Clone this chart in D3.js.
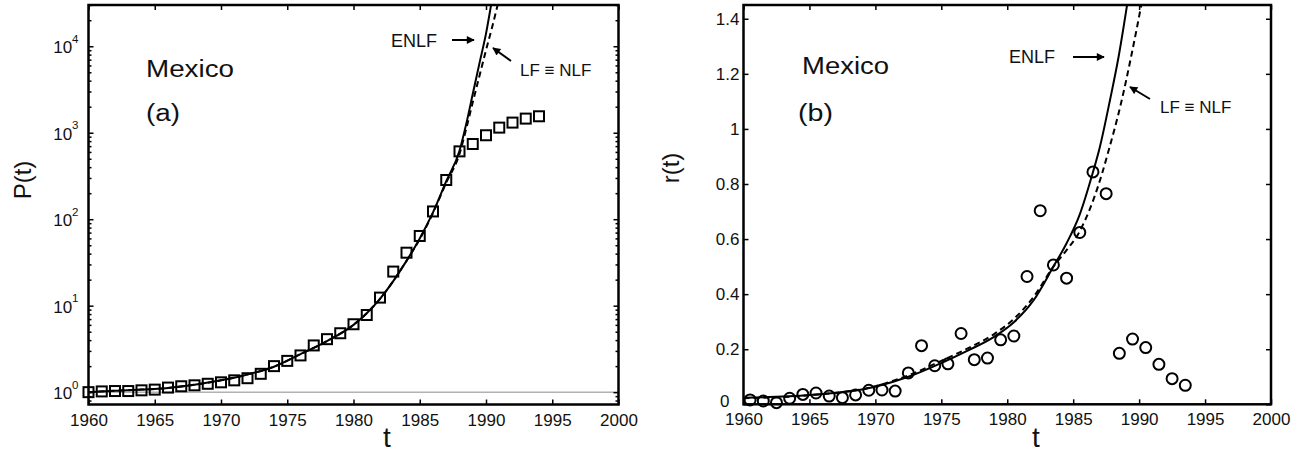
<!DOCTYPE html>
<html><head><meta charset="utf-8">
<script src="https://cdn.jsdelivr.net/npm/d3@7/dist/d3.min.js"></script>
<style>
body{margin:0;background:#fff;}
svg{display:block;font-family:"Liberation Sans",Arial,sans-serif;}
</style></head>
<body>
<svg id="chart" width="1316" height="454"></svg>
<script>
// ---------- data ----------
const pYears = d3.range(1960, 1995);
const pValues = [1.0,1.02,1.03,1.03,1.05,1.07,1.13,1.17,1.2,1.25,1.3,1.37,1.45,1.63,2.0,2.3,2.66,3.47,4.1,4.8,6.1,7.8,12.4,24.8,41,64,123,284,609,741,935,1146,1310,1457,1550];

const enlfPYears = [1960,1962,1964,1966,1968,1970,1972,1974,1976,1978,1980,1982,1984,1985,1986,1987,1988,1988.5,1989,1989.5,1990,1990.4];
const enlfP      = [1.0,1.04,1.07,1.12,1.22,1.37,1.6,1.97,2.75,3.9,6.0,12,33,60,120,275,620,1250,2800,6300,14000,31000];
const lfPYears   = [1960,1962,1964,1966,1968,1970,1972,1974,1976,1978,1980,1982,1984,1985,1986,1987,1988,1988.5,1989,1989.5,1990,1990.5,1990.9];
const lfP        = [1.0,1.04,1.07,1.12,1.22,1.37,1.6,1.97,2.75,3.9,6.0,12,33,59,118,265,570,1100,2250,4500,9000,17500,31000];

const rYears = d3.range(1960.5, 1994, 1);
const rValues = [0.016,0.012,0.006,0.022,0.036,0.041,0.030,0.024,0.034,0.051,0.052,0.048,0.114,0.213,0.140,0.147,0.257,0.162,0.168,0.234,0.248,0.464,0.703,0.506,0.458,0.624,0.844,0.765,0.185,0.237,0.206,0.145,0.093,0.069];

const enlfRYears = [1960,1965,1970,1972.5,1975,1977,1979,1980.5,1982,1983.5,1984.5,1985.5,1986.48,1987,1987.8,1988.45,1989.09];
const enlfR      = [0.024,0.034,0.064,0.10,0.15,0.195,0.245,0.298,0.378,0.5,0.585,0.69,0.84,0.93,1.107,1.264,1.451];
const lfRYears   = [1960,1965,1970,1972.5,1975,1977,1979,1980.5,1982,1983.5,1984.5,1985.34,1985.87,1986.55,1987.19,1987.65,1988.66,1989.4,1990.17];
const lfR        = [0.022,0.033,0.066,0.105,0.158,0.203,0.255,0.31,0.39,0.5,0.56,0.615,0.665,0.745,0.838,0.915,1.1,1.264,1.451];

const xTicks = [1960,1965,1970,1975,1980,1985,1990,1995,2000];
const pTicks = [1,10,100,1000,10000];
const pTickExp = ["0","1","2","3","4"];
const rTicks = [0,0.2,0.4,0.6,0.8,1,1.2,1.4];
const rTickLabels = ["0","0.2","0.4","0.6","0.8","1","1.2","1.4"];

// ---------- setup ----------
const svg = d3.select("#chart");
const defs = svg.append("defs");
defs.append("marker").attr("id","ah").attr("viewBox","0 0 10 10")
  .attr("refX",9).attr("refY",5).attr("markerWidth",10).attr("markerHeight",8)
  .attr("markerUnits","userSpaceOnUse").attr("orient","auto")
  .append("path").attr("d","M0,0 L10,5 L0,10 Z").attr("fill","#000");

const FS = 17;

function frame(g, x, y){
  const [x0,x1] = x.range(), [y0,y1] = y.range();
  g.append("rect").attr("x",x0).attr("y",y1).attr("width",x1-x0).attr("height",y0-y1)
    .attr("fill","none").attr("stroke","#000").attr("stroke-width",2.5);
}

function styleAxis(sel){
  sel.select(".domain").remove();
  sel.selectAll(".tick line").attr("stroke","#000").attr("stroke-width",1.5);
  sel.selectAll(".tick text").attr("fill","#111").attr("font-size",FS).attr("font-family","Liberation Sans, Arial, sans-serif");
}

// ---------- panel (a) ----------
const xA = d3.scaleLinear().domain([1960,2000]).range([88.5,618.5]);
const yA = d3.scaleLog().domain([0.72,30000]).range([404.5,5]);
const gA = svg.append("g");
defs.append("clipPath").attr("id","clipA").append("rect")
  .attr("x",88.5).attr("y",5).attr("width",530).attr("height",399.5);

gA.append("line").attr("x1",xA(1960)).attr("x2",xA(2000)).attr("y1",yA(1)).attr("y2",yA(1))
  .attr("stroke","#8a8a8a").attr("stroke-width",1);

const minorA = [];
for (let e=-1;e<=4;e++) for (let k=2;k<=9;k++){ const v=k*Math.pow(10,e); if(v>=0.72&&v<=30000) minorA.push(v); }

gA.append("g").attr("transform",`translate(0,${yA.range()[0]})`)
  .call(d3.axisBottom(xA).tickValues(xTicks).tickFormat(d3.format("d")).tickSize(-5).tickPadding(9)).call(styleAxis);
gA.append("g").attr("transform",`translate(0,${yA.range()[1]})`)
  .call(d3.axisTop(xA).tickValues(xTicks).tickFormat("").tickSize(-5)).call(styleAxis);
const yAxA = gA.append("g").attr("transform",`translate(${xA.range()[0]},0)`)
  .call(d3.axisLeft(yA).tickValues(pTicks).tickFormat("").tickSize(-5)).call(styleAxis);
yAxA.selectAll(".tick").append("text")
  .attr("x",-10).attr("dy","0.38em").attr("text-anchor","end").attr("fill","#111").attr("font-size",FS)
  .each(function(d,i){
    const t = d3.select(this);
    t.append("tspan").text("10");
    t.append("tspan").attr("dy",-10.5).attr("font-size",11.5).text(pTickExp[i]);
  });
gA.append("g").attr("transform",`translate(${xA.range()[0]},0)`)
  .call(d3.axisLeft(yA).tickValues(minorA).tickFormat("").tickSize(-3)).call(styleAxis);
gA.append("g").attr("transform",`translate(${xA.range()[1]},0)`)
  .call(d3.axisRight(yA).tickValues(pTicks).tickFormat("").tickSize(-5)).call(styleAxis);
gA.append("g").attr("transform",`translate(${xA.range()[1]},0)`)
  .call(d3.axisRight(yA).tickValues(minorA).tickFormat("").tickSize(-3)).call(styleAxis);

const lineA = (xs, ys) => d3.line().x((d,i)=>xA(xs[i])).y((d,i)=>yA(ys[i])).curve(d3.curveMonotoneX)(xs);
gA.append("path").attr("d",lineA(enlfPYears,enlfP)).attr("fill","none").attr("stroke","#000")
  .attr("stroke-width",2).attr("clip-path","url(#clipA)");
gA.append("path").attr("d",lineA(lfPYears,lfP)).attr("fill","none").attr("stroke","#000")
  .attr("stroke-width",2).attr("stroke-dasharray","6,4").attr("clip-path","url(#clipA)");

gA.selectAll("rect.sq").data(pYears).enter().append("rect").attr("class","sq")
  .attr("x",d=>xA(d)-5).attr("y",(d,i)=>yA(pValues[i])-5).attr("width",10).attr("height",10)
  .attr("fill","none").attr("stroke","#000").attr("stroke-width",2);

frame(gA, xA, yA);

gA.append("text").attr("x",146).attr("y",77).attr("font-size",23).attr("textLength",88)
  .attr("lengthAdjust","spacingAndGlyphs").attr("fill","#111").text("Mexico");
gA.append("text").attr("x",146).attr("y",121).attr("font-size",23).attr("textLength",34)
  .attr("lengthAdjust","spacingAndGlyphs").attr("fill","#111").text("(a)");
gA.append("text").attr("x",391).attr("y",47).attr("font-size",18).attr("fill","#111").text("ENLF");
gA.append("line").attr("x1",452).attr("y1",40).attr("x2",474).attr("y2",40)
  .attr("stroke","#000").attr("stroke-width",2).attr("marker-end","url(#ah)");
gA.append("text").attr("x",520).attr("y",76).attr("font-size",17).attr("fill","#111").text("LF \u2261 NLF");
gA.append("line").attr("x1",511).attr("y1",61).attr("x2",493).attr("y2",48)
  .attr("stroke","#000").attr("stroke-width",2).attr("marker-end","url(#ah)");

gA.append("text").attr("transform","translate(31,180) rotate(-90)").attr("text-anchor","middle")
  .attr("font-size",24).attr("fill","#111").text("P(t)");
gA.append("text").attr("x",387).attr("y",447).attr("text-anchor","middle")
  .attr("font-size",28).attr("fill","#111").text("t");

// ---------- panel (b) ----------
const xB = d3.scaleLinear().domain([1960,2000]).range([743.5,1271]);
const yB = d3.scaleLinear().domain([0,1.45]).range([404.3,5]);
const gB = svg.append("g");
defs.append("clipPath").attr("id","clipB").append("rect")
  .attr("x",743.5).attr("y",5).attr("width",527.5).attr("height",399.3);

gB.append("g").attr("transform",`translate(0,${yB.range()[0]})`)
  .call(d3.axisBottom(xB).tickValues(xTicks).tickFormat(d3.format("d")).tickSize(-5).tickPadding(8.8)).call(styleAxis);
gB.append("g").attr("transform",`translate(0,${yB.range()[1]})`)
  .call(d3.axisTop(xB).tickValues(xTicks).tickFormat("").tickSize(-5)).call(styleAxis);
const yAxB = gB.append("g").attr("transform",`translate(${xB.range()[0]},0)`)
  .call(d3.axisLeft(yB).tickValues(rTicks).tickFormat((d,i)=>rTickLabels[i]).tickSize(-5).tickPadding(4)).call(styleAxis);
// zero label sits slightly left and up, as in the original, clear of the 1960 label
yAxB.selectAll(".tick text").filter(d=>d===0).attr("x",-14).attr("dy","0.1em");
gB.append("g").attr("transform",`translate(${xB.range()[1]},0)`)
  .call(d3.axisRight(yB).tickValues(rTicks).tickFormat("").tickSize(-5)).call(styleAxis);

const lineB = (xs, ys) => d3.line().x((d,i)=>xB(xs[i])).y((d,i)=>yB(ys[i])).curve(d3.curveMonotoneX)(xs);
gB.append("path").attr("d",lineB(enlfRYears,enlfR)).attr("fill","none").attr("stroke","#000")
  .attr("stroke-width",2).attr("clip-path","url(#clipB)");
gB.append("path").attr("d",lineB(lfRYears,lfR)).attr("fill","none").attr("stroke","#000")
  .attr("stroke-width",2).attr("stroke-dasharray","6,4").attr("clip-path","url(#clipB)");

gB.selectAll("circle.pt").data(rYears).enter().append("circle").attr("class","pt")
  .attr("cx",d=>xB(d)).attr("cy",(d,i)=>yB(rValues[i])).attr("r",5.5)
  .attr("fill","none").attr("stroke","#000").attr("stroke-width",2);

frame(gB, xB, yB);

gB.append("text").attr("x",802).attr("y",74).attr("font-size",23).attr("textLength",87)
  .attr("lengthAdjust","spacingAndGlyphs").attr("fill","#111").text("Mexico");
gB.append("text").attr("x",798).attr("y",121).attr("font-size",23).attr("textLength",35)
  .attr("lengthAdjust","spacingAndGlyphs").attr("fill","#111").text("(b)");
gB.append("text").attr("x",1009).attr("y",63).attr("font-size",18).attr("fill","#111").text("ENLF");
gB.append("line").attr("x1",1073).attr("y1",57).attr("x2",1104).attr("y2",57)
  .attr("stroke","#000").attr("stroke-width",2).attr("marker-end","url(#ah)");
gB.append("text").attr("x",1160).attr("y",113).attr("font-size",17).attr("fill","#111").text("LF \u2261 NLF");
gB.append("line").attr("x1",1150).attr("y1",99).attr("x2",1130).attr("y2",87)
  .attr("stroke","#000").attr("stroke-width",2).attr("marker-end","url(#ah)");

gB.append("text").attr("transform","translate(679,168) rotate(-90)").attr("text-anchor","middle")
  .attr("font-size",24).attr("fill","#111").text("r(t)");
gB.append("text").attr("x",1036).attr("y",447).attr("text-anchor","middle")
  .attr("font-size",28).attr("fill","#111").text("t");
</script>
</body></html>
